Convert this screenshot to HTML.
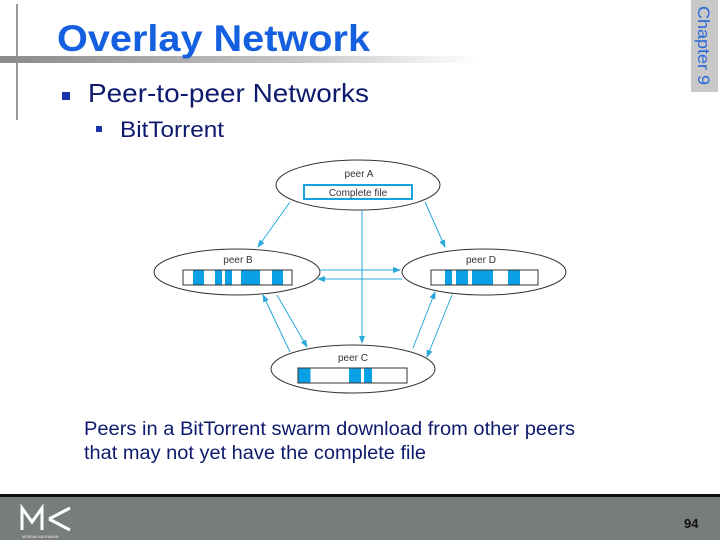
<!DOCTYPE html>
<html><head><meta charset="utf-8"><style>
html,body{margin:0;padding:0;background:#fff;}
body{width:720px;height:540px;overflow:hidden;position:relative;font-family:"Liberation Sans",Arial,sans-serif;}
svg{position:absolute;left:0;top:0;}
</style></head><body>
<svg width="720" height="540" viewBox="0 0 720 540" xmlns="http://www.w3.org/2000/svg" font-family="Liberation Sans, Arial, sans-serif">
<defs>
<linearGradient id="g" x1="0" x2="1"><stop offset="0" stop-color="#8a8a8a"/><stop offset="0.6" stop-color="#c4c4c4"/><stop offset="1" stop-color="#ffffff"/></linearGradient>
<marker id="ar" markerWidth="8" markerHeight="8" refX="7" refY="4" orient="auto" markerUnits="userSpaceOnUse"><path d="M0,1 L8,4 L0,7 z" fill="#2aa8dc"/></marker>
</defs>
<rect x="16" y="4" width="2" height="116" fill="#999"/>
<rect x="0" y="56" width="480" height="7" fill="url(#g)"/>
<text x="57" y="51" font-size="37" font-weight="bold" fill="#1560e0" textLength="313" lengthAdjust="spacingAndGlyphs">Overlay Network</text>
<rect x="691" y="0" width="27" height="92" fill="#c8c8c8"/>
<text transform="translate(698,6) rotate(90)" font-size="17" fill="#2a6ad8" textLength="79" lengthAdjust="spacingAndGlyphs">Chapter 9</text>
<rect x="62" y="92" width="8" height="8" fill="#1a35a8"/>
<text x="88" y="102" font-size="26" fill="#0d1a6e" textLength="281" lengthAdjust="spacingAndGlyphs">Peer-to-peer Networks</text>
<rect x="96" y="126" width="6" height="6" fill="#1a35a8"/>
<text x="120" y="137" font-size="22" fill="#0d1a6e" textLength="104" lengthAdjust="spacingAndGlyphs">BitTorrent</text>

<g fill="#fff" stroke="#333" stroke-width="1">
<ellipse cx="358" cy="185" rx="82" ry="25"/>
<ellipse cx="237" cy="272" rx="83" ry="23"/>
<ellipse cx="484" cy="272" rx="82" ry="23"/>
<ellipse cx="353" cy="369" rx="82" ry="24"/>
</g>
<g font-size="10" fill="#333" text-anchor="middle">
<text x="359" y="177">peer A</text>
<text x="238" y="263">peer B</text>
<text x="481" y="263">peer D</text>
<text x="353" y="361">peer C</text>
</g>
<rect x="304" y="185" width="108" height="14" fill="#fff" stroke="#19a0e0" stroke-width="2"/>
<text x="358" y="196" font-size="10" fill="#333" text-anchor="middle">Complete file</text>
<g fill="#fff" stroke="#333" stroke-width="1">
<rect x="183" y="270" width="109" height="15"/>
<rect x="431" y="270" width="107" height="15"/>
<rect x="298" y="368" width="109" height="15"/>
</g>
<g fill="#0aa0e6">
<rect x="193" y="270.5" width="11" height="14"/><rect x="215" y="270.5" width="7" height="14"/><rect x="225" y="270.5" width="7" height="14"/><rect x="241" y="270.5" width="19" height="14"/><rect x="272" y="270.5" width="11" height="14"/>
<rect x="445" y="270.5" width="7" height="14"/><rect x="456" y="270.5" width="12" height="14"/><rect x="472" y="270.5" width="21" height="14"/><rect x="508" y="270.5" width="12" height="14"/>
<rect x="298.5" y="368.5" width="12" height="14"/><rect x="349" y="368.5" width="12" height="14"/><rect x="364" y="368.5" width="8" height="14"/>
</g>
<g stroke="#2aa8dc" stroke-width="1" fill="none" marker-end="url(#ar)">
<line x1="290" y1="202" x2="258" y2="247"/>
<line x1="425" y1="202" x2="445" y2="247"/>
<line x1="362" y1="210" x2="362" y2="343"/>
<line x1="320" y1="270" x2="400" y2="270"/>
<line x1="402" y1="279" x2="318" y2="279"/>
<line x1="277" y1="295" x2="307" y2="347"/>
<line x1="290" y1="352" x2="263" y2="295"/>
<line x1="413" y1="348" x2="435" y2="292"/>
<line x1="452" y1="295" x2="427" y2="357"/>
</g>

<text x="84" y="435" font-size="19" fill="#0d1a6e" textLength="491" lengthAdjust="spacingAndGlyphs">Peers in a BitTorrent swarm download from other peers</text>
<text x="84" y="459" font-size="19" fill="#0d1a6e" textLength="342" lengthAdjust="spacingAndGlyphs">that may not yet have the complete file</text>

<rect x="0" y="494" width="720" height="3" fill="#111"/>
<rect x="0" y="497" width="720" height="43" fill="#777d79"/>
<path d="M22,530 L22,508 L32,522 L42,508 L42,530 M49,519 L70,508 M49,519 L70,530" stroke="#fff" stroke-width="3" fill="none"/>
<text x="22" y="538" font-size="3.5" fill="#eee">MORGAN KAUFMANN</text>
<text x="684" y="528" font-size="13" font-weight="bold" fill="#111">94</text>
</svg>
</body></html>
